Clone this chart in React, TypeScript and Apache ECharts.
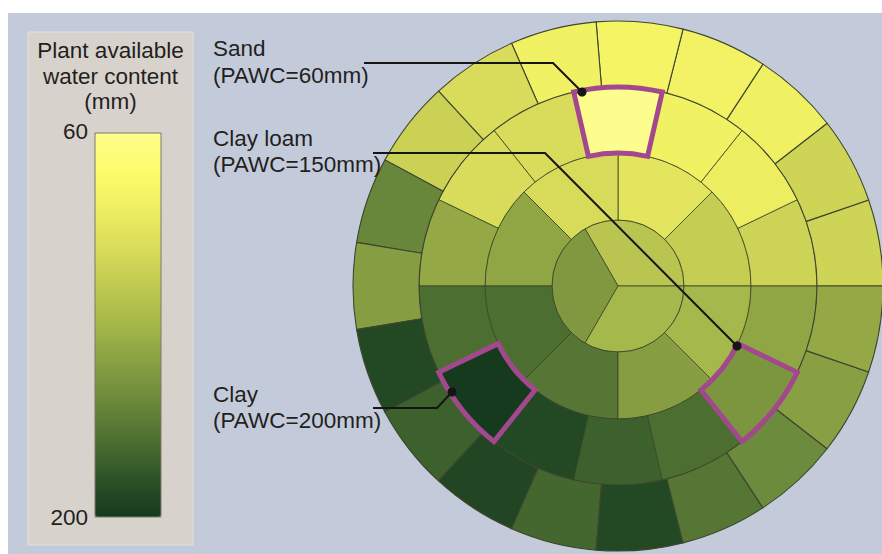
import React, { useEffect, useRef } from "react";
import * as echarts from "echarts";

// PAWC values (mm) per cell, counter-clockwise from east (3 o'clock)
const ring1Values = [119, 148, 129];
const ring2Values = [113, 95, 103, 140, 172, 168, 145, 129];
const ring3Values = [109, 89, 85, 60, 102, 102, 138, 172, 200, 192, 179, 172, 150, 140];
const ring4Values = [108, 108, 86, 84, 82, 85, 102, 110, 159, 145, 192, 179, 193, 176, 192, 168, 157, 144, 138];

// highlighted cells in ring 3 with their labels
const highlightCells = [3, 8, 12];
const annotationTitles = ["Sand", "Clay loam", "Clay"];
const annotationValues = ["(PAWC=60mm)", "(PAWC=150mm)", "(PAWC=200mm)"];

const scaleMin = 60;
const scaleMax = 200;
const scaleColors = [
  "#fdfd8e", "#fcfc6a", "#eeee62", "#d9dc5a", "#bfc951", "#a3b74a",
  "#889f43", "#6b893b", "#4c6f31", "#2e5228", "#153a1e",
];
const legendTitle = ["Plant available", "water content", "(mm)"];
const scaleTicks = ["60", "200"];

const FONT = '"Liberation Sans", Arial, sans-serif';
const CX = 618;
const CY = 286;
const RADII = [0, 66, 133, 199, 265];

function colorOf(v: number) {
  return echarts.color.lerp((v - scaleMin) / (scaleMax - scaleMin), scaleColors) as string;
}

function ringSeries(values: number[], idx: number) {
  return {
    type: "pie",
    center: [CX, CY],
    radius: [RADII[idx], RADII[idx + 1]],
    startAngle: 0,
    clockwise: false,
    silent: true,
    avoidLabelOverlap: false,
    label: { show: false },
    labelLine: { show: false },
    emphasis: { disabled: true },
    itemStyle: {
      borderColor: idx === 3 ? "#3f4630" : "#3b4525",
      borderWidth: idx === 3 ? 1.1 : 0.8,
    },
    data: values.map((v, i) => ({
      name: `r${idx + 1}-${i}`,
      value: 1,
      itemStyle: { color: colorOf(v) },
    })),
    z: 2,
  };
}

export default function App() {
  const ref = useRef<HTMLDivElement>(null);
  useEffect(() => {
    if (!ref.current) return;
    const chart = echarts.init(ref.current, undefined, { renderer: "svg" });

    const overlay = {
      type: "pie",
      center: [CX, CY],
      radius: [RADII[2], RADII[3]],
      startAngle: 0,
      clockwise: false,
      silent: true,
      avoidLabelOverlap: false,
      label: { show: false },
      labelLine: { show: false },
      emphasis: { disabled: true },
      z: 5,
      data: ring3Values.map((_, i) => ({
        name: `h-${i}`,
        value: 1,
        itemStyle: highlightCells.includes(i)
          ? { color: "rgba(0,0,0,0)", borderColor: "#a3478e", borderWidth: 5, borderJoin: "miter" }
          : { color: "rgba(0,0,0,0)", borderWidth: 0 },
      })),
    };

    const textStyle = (x: number, y: number, t: string, align = "left") => ({
      type: "text",
      x,
      y,
      z: 20,
      style: {
        text: t,
        fill: "#231f20",
        font: `22.5px ${FONT}`,
        textAlign: align,
        textVerticalAlign: "middle",
      },
    });

    const leaders = [
      { pts: [[364, 63], [553, 63], [582, 92]], dot: [582, 92] },
      { pts: [[373, 153], [545, 153], [737, 346]], dot: [737, 346] },
      { pts: [[373, 408], [437, 408], [452, 392]], dot: [452, 392] },
    ];
    const annY = [[48, 75], [138, 164], [394, 420]];

    const graphics: any[] = [
      { type: "rect", z: 0, shape: { x: 8, y: 13, width: 874, height: 541 }, style: { fill: "#c3cbdb" } },
      { type: "rect", z: 1, shape: { x: 28, y: 32, width: 165, height: 513 }, style: { fill: "#d8d2cd", stroke: "#e4e0dc", lineWidth: 1 } },
      { type: "rect", z: 10, shape: { x: 95, y: 133, width: 66, height: 384 }, style: { fill: "none", stroke: "#7c7a6a", lineWidth: 1 } },
      textStyle(110.5, 50, legendTitle[0], "center"),
      textStyle(110.5, 76, legendTitle[1], "center"),
      textStyle(110.5, 101, legendTitle[2], "center"),
      textStyle(88, 131, scaleTicks[0], "right"),
      textStyle(88, 517, scaleTicks[1], "right"),
    ];
    annotationTitles.forEach((t, i) => {
      graphics.push(textStyle(213, annY[i][0], t));
      graphics.push(textStyle(213, annY[i][1], annotationValues[i]));
      graphics.push({
        type: "polyline",
        z: 20,
        shape: { points: leaders[i].pts },
        style: { stroke: "#151515", lineWidth: 2, fill: "none" },
      });
      graphics.push({
        type: "circle",
        z: 21,
        shape: { cx: leaders[i].dot[0], cy: leaders[i].dot[1], r: 4.5 },
        style: { fill: "#151515" },
      });
    });

    chart.setOption({
      animation: false,
      backgroundColor: "#ffffff",
      visualMap: {
        type: "continuous",
        min: scaleMin,
        max: scaleMax,
        inverse: true,
        orient: "vertical",
        left: 95,
        top: 133,
        padding: 0,
        itemWidth: 66,
        itemHeight: 384,
        calculable: false,
        hoverLink: false,
        seriesIndex: [],
        inRange: { color: scaleColors },
        z: 5,
      },
      graphic: { elements: graphics },
      series: [
        ringSeries(ring1Values, 0),
        ringSeries(ring2Values, 1),
        ringSeries(ring3Values, 2),
        ringSeries(ring4Values, 3),
        overlay,
      ],
    });
    return () => chart.dispose();
  }, []);
  return (
    <div
      ref={ref}
      style={{ position: "fixed", left: 0, top: 0, width: 882, height: 554 }}
    />
  );
}
